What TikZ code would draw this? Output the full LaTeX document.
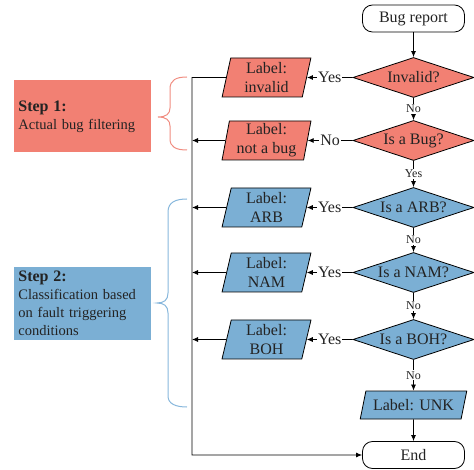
\documentclass[tikz,border=0pt]{standalone}
\usepackage{fontspec}
\setmainfont{Liberation Serif}
\usetikzlibrary{shapes.geometric,arrows.meta}
\definecolor{redfill}{RGB}{242,128,115}
\definecolor{bluefill}{RGB}{123,175,212}
\definecolor{redbrace}{RGB}{240,140,128}
\definecolor{bluebrace}{RGB}{135,183,220}
\definecolor{txt}{RGB}{35,35,35}
\begin{document}
\begin{tikzpicture}[x=1pt,y=-1pt,
  font=\fontsize{16}{19}\selectfont, text=txt, line width=0.8pt,
  term/.style={draw, rounded corners=10pt, minimum width=102pt, minimum height=27pt, inner sep=0pt},
  decision/.style={diamond, draw, aspect=3, minimum width=121pt, minimum height=40pt, inner sep=0pt},
  labelbox/.style={trapezium, trapezium left angle=80, trapezium right angle=100, trapezium stretches=true, draw, align=center, minimum width=89pt, minimum height=39pt, inner sep=0pt},
  arr/.style={-{Latex[length=6pt,width=5pt]}},
  small/.style={fill=white, inner sep=1pt, font=\fontsize{12}{12}\selectfont},
  side/.style={fill=white, inner sep=1pt},
  stepbox/.style={text width=129pt, inner sep=4pt, minimum height=72pt, align=left, anchor=north west, font=\fontsize{14.5}{18}\selectfont},
  brace/.style={line width=1pt}
]
\useasboundingbox (0,0) rectangle (474,470);

% main column
\node[term] (start) at (413.5,18.5) {Bug report};
\node[decision, fill=redfill] (d1) at (413.5,77.5) {Invalid?};
\node[decision, fill=redfill] (d2) at (413.5,140.5) {Is a Bug?};
\node[decision, fill=bluefill] (d3) at (413.5,207.5) {Is a ARB?};
\node[decision, fill=bluefill] (d4) at (413.5,272.5) {Is a NAM?};
\node[decision, fill=bluefill] (d5) at (413.5,339.5) {Is a BOH?};
\node[trapezium, trapezium left angle=67, trapezium right angle=113, trapezium stretches=true, draw, fill=bluefill, minimum width=107pt, minimum height=28pt, inner sep=0pt] (unk) at (413.5,405) {Label: UNK};
\node[term] (end) at (413.5,455) {End};

% labels
\node[labelbox, fill=redfill] (l1) at (266.5,77.5) {Label:\\invalid};
\node[labelbox, fill=redfill] (l2) at (266.5,140.5) {Label:\\not a bug};
\node[labelbox, fill=bluefill] (l3) at (266.5,207.5) {Label:\\ARB};
\node[labelbox, fill=bluefill] (l4) at (266.5,272.5) {Label:\\NAM};
\node[labelbox, fill=bluefill] (l5) at (266.5,339.5) {Label:\\BOH};

% vertical arrows
\draw[arr] (start) -- (d1);
\draw[arr] (d1) -- node[small]{No} (d2);
\draw[arr] (d2) -- node[small]{Yes} (d3);
\draw[arr] (d3) -- node[small]{No} (d4);
\draw[arr] (d4) -- node[small]{No} (d5);
\draw[arr] (d5) -- node[small]{No} (unk);
\draw[arr] (unk) -- (end);

% side arrows
\draw[arr] (d1.west) -- node[side]{Yes} (l1.east);
\draw[arr] (d2.west) -- node[side]{No} (l2.east);
\draw[arr] (d3.west) -- node[side]{Yes} (l3.east);
\draw[arr] (d4.west) -- node[side]{Yes} (l4.east);
\draw[arr] (d5.west) -- node[side]{Yes} (l5.east);

% collector line
\coordinate (c1) at (192,77.5);
\draw[arr] (l1.west) -- (c1) |- (end.west);
\draw[arr] (l2.west) -- (l2.west -| c1);
\draw[arr] (l3.west) -- (l3.west -| c1);
\draw[arr] (l4.west) -- (l4.west -| c1);
\draw[arr] (l5.west) -- (l5.west -| c1);

% braces
\draw[brace, redbrace] (187,77) .. controls (176,77) and (170,80) .. (170,89) -- (170,108)
  .. controls (170,114) and (166,117) .. (158,117)
  .. controls (166,117) and (170,120) .. (170,126) -- (170,139)
  .. controls (170,147) and (176,150) .. (187,150);
\draw[brace, bluebrace] (187,199) .. controls (176,199) and (168,202) .. (168,212) -- (168,293)
  .. controls (168,300) and (164,303) .. (157,303)
  .. controls (164,303) and (168,306) .. (168,313) -- (168,396)
  .. controls (168,404) and (176,407) .. (187,407);

% step boxes
\node[stepbox, fill=redfill] (s1) at (14,80) {{\fontsize{16}{18}\selectfont\bfseries Step 1:}\\Actual bug filtering};
\node[stepbox, fill=bluefill] (s2) at (14,267) {{\fontsize{16}{18}\selectfont\bfseries Step 2:}\\Classification based on fault triggering conditions};
\end{tikzpicture}
\end{document}
